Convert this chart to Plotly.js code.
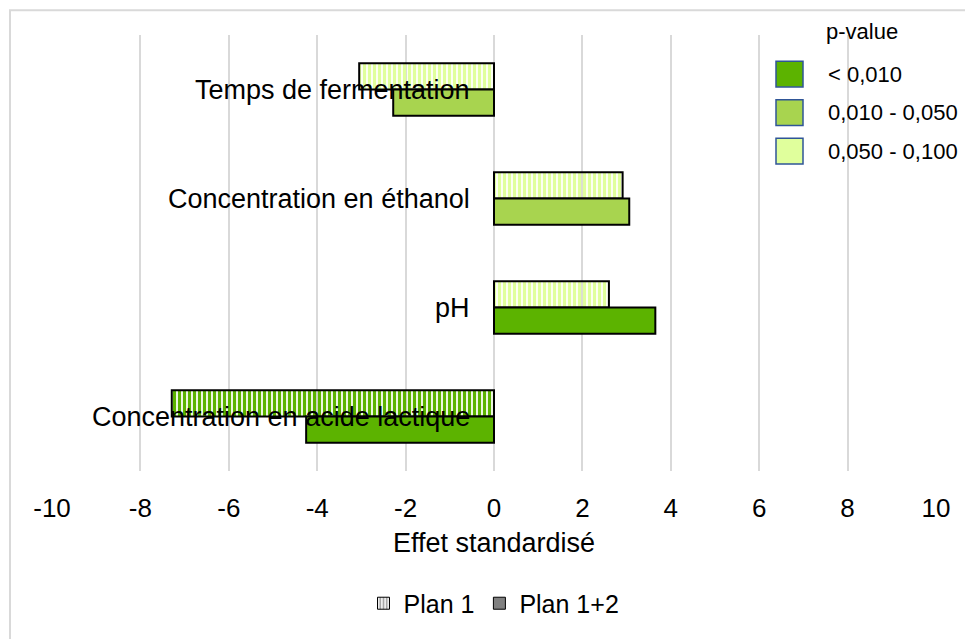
<!DOCTYPE html>
<html>
<head>
<meta charset="utf-8">
<script src="https://cdn.plot.ly/plotly-3.0.1.min.js"></script>
<style>html,body{margin:0;padding:0;background:#fff;}#chart{width:965px;height:639px;}</style>
</head>
<body>
<div id="chart"></div>
<script>
// ---- data ----
const categories = ["Temps de fermentation", "Concentration en éthanol", "pH", "Concentration en acide lactique"];
const seriesNames = ["Plan 1", "Plan 1+2"];
const plan1Values = [-3.05, 2.91, 2.60, -7.29];
const plan12Values = [-2.28, 3.06, 3.65, -4.25];
const plan1PClass = ["0,050 - 0,100", "0,050 - 0,100", "0,050 - 0,100", "< 0,010"];
const plan12PClass = ["0,010 - 0,050", "0,010 - 0,050", "< 0,010", "< 0,010"];
const pClasses = ["< 0,010", "0,010 - 0,050", "0,050 - 0,100"];
const pLegendTitle = "p-value";
const xTickValues = [-10, -8, -6, -4, -2, 0, 2, 4, 6, 8, 10];
const xTitle = "Effet standardisé";

// ---- styles ----
const pColors = {"< 0,010": "#5CB300", "0,010 - 0,050": "#A8D44F", "0,050 - 0,100": "#E0FF9C"};
const FONT = "Liberation Sans, Arial, sans-serif";
const W = 965, H = 639;
const M = {l: 52, r: 29, t: 35, b: 163};
const plotW = W - M.l - M.r, plotH = H - M.t - M.b;
const px = x => (x - M.l) / plotW;          // pixel -> paper x
const py = y => (H - M.b - y) / plotH;      // pixel -> paper y

const c1 = plan1PClass.map(k => pColors[k]);
const c2 = plan12PClass.map(k => pColors[k]);

const traces = [
  {
    type: "bar", orientation: "h", name: seriesNames[0],
    y: categories, x: plan1Values,
    width: 0.24, offset: -0.24,
    marker: {color: c1, line: {color: "#000", width: 2},
      pattern: {shape: categories.map(() => "|"), fillmode: "replace", fgcolor: c1, bgcolor: categories.map(() => "#ffffff"), size: 5, solidity: 0.65}},
    showlegend: false, hoverinfo: "x+y"
  },
  {
    type: "bar", orientation: "h", name: seriesNames[1],
    y: categories, x: plan12Values,
    width: 0.24, offset: 0,
    marker: {color: c2, line: {color: "#000", width: 2}},
    showlegend: false, hoverinfo: "x+y"
  },
  // legend-only entries
  {
    type: "bar", orientation: "h", name: seriesNames[0],
    y: [categories[0]], x: [null],
    marker: {color: "#bfbfbf", line: {color: "#000", width: 1},
      pattern: {shape: "|", fillmode: "replace", fgcolor: "#ffffff", bgcolor: "#a6a6a6", size: 4, solidity: 0.4}},
    showlegend: true, hoverinfo: "skip"
  },
  {
    type: "bar", orientation: "h", name: seriesNames[1],
    y: [categories[0]], x: [null],
    marker: {color: "#808080", line: {color: "#000", width: 1}},
    showlegend: true, hoverinfo: "skip"
  }
];

const annotations = categories.map(c => ({
  x: 0, y: c, xref: "x", yref: "y", text: c, showarrow: false,
  xanchor: "right", yanchor: "middle", xshift: -22,
  font: {family: FONT, size: 27, color: "#000"}
}));

const shapes = [{
  type: "rect", xref: "paper", yref: "paper", layer: "below",
  x0: px(10), x1: px(1100), y0: py(10), y1: py(800),
  line: {color: "#d9d9d9", width: 2}, fillcolor: "rgba(0,0,0,0)"
}];

const rowCenters = [74.5, 113.5, 152.5];
pClasses.forEach((k, i) => {
  const cy = rowCenters[i];
  shapes.push({
    type: "rect", xref: "paper", yref: "paper",
    x0: px(776), x1: px(803), y0: py(cy + 13), y1: py(cy - 13),
    line: {color: "#2F5597", width: 1.5}, fillcolor: pColors[k]
  });
  annotations.push({
    xref: "paper", yref: "paper", x: px(826), y: py(cy), text: k, showarrow: false,
    xanchor: "left", yanchor: "middle", font: {family: FONT, size: 22, color: "#000"}
  });
});
annotations.push({
  xref: "paper", yref: "paper", x: px(824), y: py(31), text: pLegendTitle, showarrow: false,
  xanchor: "left", yanchor: "middle", font: {family: FONT, size: 22, color: "#000"}
});

const layout = {
  width: W, height: H,
  margin: M,
  paper_bgcolor: "#ffffff", plot_bgcolor: "#ffffff",
  font: {family: FONT, color: "#000"},
  barmode: "overlay",
  xaxis: {
    range: [-10, 10], tickvals: xTickValues, ticktext: xTickValues.map(String),
    showgrid: true, gridcolor: "#d9d9d9", gridwidth: 2,
    zeroline: false, showline: false, ticks: "",
    ticklabelstandoff: 19,
    tickfont: {family: FONT, size: 26, color: "#000"},
    title: {text: xTitle, font: {family: FONT, size: 27, color: "#000"}, standoff: 11},
    fixedrange: true
  },
  yaxis: {
    type: "category", categoryorder: "array", categoryarray: categories,
    autorange: "reversed", range: [categories.length - 0.5, -0.5],
    showticklabels: false, showgrid: false, zeroline: false, showline: false, ticks: "",
    fixedrange: true
  },
  showlegend: true,
  legend: {
    orientation: "h", x: 0.5, xanchor: "center", y: py(610), yanchor: "middle",
    font: {family: FONT, size: 25, color: "#000"}, traceorder: "normal",
    bgcolor: "rgba(0,0,0,0)"
  },
  shapes: shapes,
  annotations: annotations
};

Plotly.newPlot("chart", traces, layout, {displayModeBar: false, staticPlot: true});
</script>
</body>
</html>
